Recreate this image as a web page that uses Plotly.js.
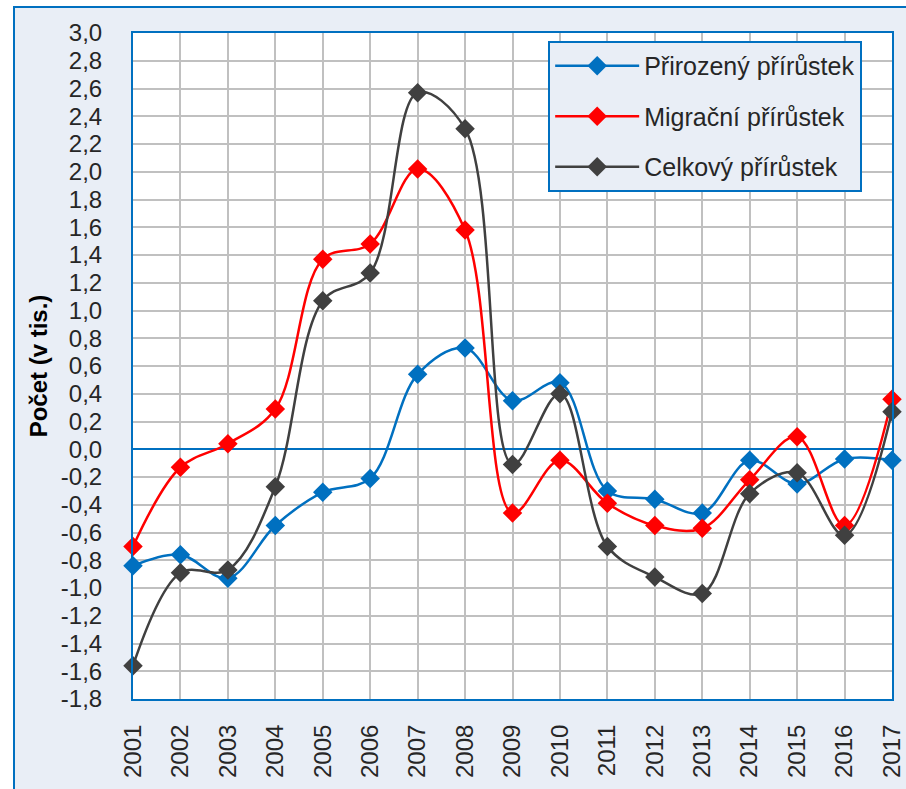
<!DOCTYPE html>
<html>
<head>
<meta charset="utf-8">
<script src="https://cdn.plot.ly/plotly-3.0.1.min.js"></script>
<style>
  html, body { margin: 0; padding: 0; background: #ffffff; overflow: hidden; }
  #frame { position: absolute; left: 13px; top: 6px; width: 1000px; height: 1000px;
           background: #E9EEF6; border: 2px solid #0070C0; }
  #chart { position: absolute; left: 0; top: 0; width: 906px; height: 789px; }
</style>
</head>
<body>
<div id="frame"></div>
<div id="chart"></div>
<script>
// ---- data ----
const years = [2001, 2002, 2003, 2004, 2005, 2006, 2007, 2008, 2009, 2010, 2011, 2012, 2013, 2014, 2015, 2016, 2017];
const yearLabels = ["2001","2002","2003","2004","2005","2006","2007","2008","2009","2010","2011","2012","2013","2014","2015","2016","2017"];
const prirozeny = [-0.84, -0.76, -0.93, -0.55, -0.31, -0.21, 0.54, 0.73, 0.35, 0.48, -0.30, -0.36, -0.46, -0.08, -0.25, -0.07, -0.08];
const migracni  = [-0.70, -0.13, 0.04, 0.29, 1.37, 1.48, 2.02, 1.58, -0.46, -0.08, -0.39, -0.55, -0.57, -0.22, 0.09, -0.55, 0.36];
const celkovy   = [-1.56, -0.89, -0.87, -0.27, 1.07, 1.27, 2.57, 2.31, -0.11, 0.40, -0.70, -0.92, -1.04, -0.32, -0.17, -0.62, 0.27];
const seriesNames = ["Přirozený přírůstek", "Migrační přírůstek", "Celkový přírůstek"];
const yTickVals = [-1.8,-1.6,-1.4,-1.2,-1.0,-0.8,-0.6,-0.4,-0.2,0.0,0.2,0.4,0.6,0.8,1.0,1.2,1.4,1.6,1.8,2.0,2.2,2.4,2.6,2.8,3.0];
const yTickText = ["-1,8","-1,6","-1,4","-1,2","-1,0","-0,8","-0,6","-0,4","-0,2","0,0","0,2","0,4","0,6","0,8","1,0","1,2","1,4","1,6","1,8","2,0","2,2","2,4","2,6","2,8","3,0"];
const yTitle = "Počet (v tis.)";

const colors = ["#0070C0", "#FF0000", "#404040"];
const seriesData = [prirozeny, migracni, celkovy];

const font = "Liberation Sans, Arial, sans-serif";

const traces = seriesData.map((vals, i) => ({
  type: "scatter",
  mode: "lines+markers",
  x: years,
  y: vals,
  name: seriesNames[i],
  legendgroup: "g" + i,
  cliponaxis: false,
  line: { color: colors[i], width: 2.5, shape: "spline", smoothing: 1 },
  marker: { symbol: "diamond", size: 15, color: colors[i] }
}));

const layout = {
  width: 906,
  height: 789,
  margin: { l: 133, r: 14, t: 33, b: 90 },
  paper_bgcolor: "rgba(0,0,0,0)",
  plot_bgcolor: "#ffffff",
  font: { family: font, size: 24, color: "#262626" },
  showlegend: true,
  legend: {
    x: 0.547, y: 0.988, xanchor: "left", yanchor: "top",
    bgcolor: "#E9EEF6", bordercolor: "#0070C0", borderwidth: 2,
    font: { family: font, size: 25, color: "#262626" },
    traceorder: "grouped", tracegroupgap: 15, itemwidth: 84
  },
  xaxis: {
    range: [2001, 2017],
    tickvals: years,
    ticktext: yearLabels,
    tickangle: -90,
    showgrid: true, gridcolor: "#C0C0C0", gridwidth: 2,
    showline: true, mirror: true, linecolor: "#0070C0", linewidth: 2,
    zeroline: false,
    ticks: "", ticklabelstandoff: 14,
    tickfont: { family: font, size: 24, color: "#262626" }
  },
  yaxis: {
    range: [-1.8, 3.0],
    tickvals: yTickVals,
    ticktext: yTickText,
    showgrid: true, gridcolor: "#C0C0C0", gridwidth: 2,
    showline: true, mirror: true, linecolor: "#0070C0", linewidth: 2,
    zeroline: true, zerolinecolor: "#0070C0", zerolinewidth: 2,
    ticks: "", ticklabelstandoff: 24,
    tickfont: { family: font, size: 24, color: "#262626" },
    title: { text: yTitle, font: { family: font, size: 24, color: "#000000", weight: "bold" }, standoff: 6 }
  }
};

Plotly.newPlot("chart", traces, layout, { displayModeBar: false, staticPlot: true });
</script>
</body>
</html>
